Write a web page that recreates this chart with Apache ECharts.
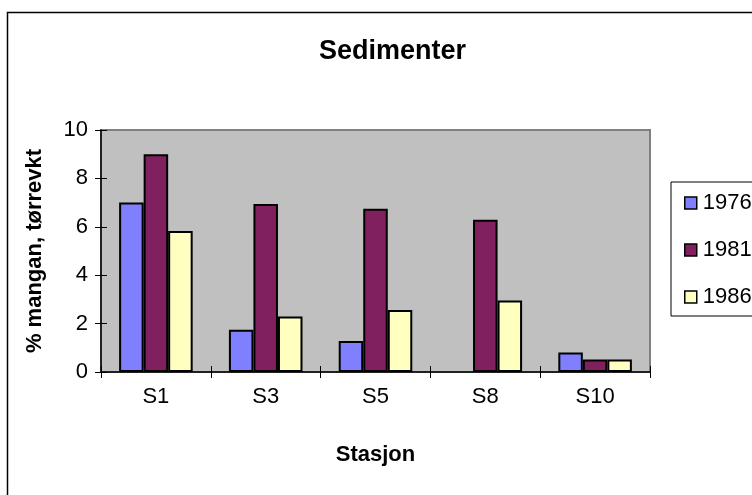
<!DOCTYPE html>
<html><head><meta charset="utf-8">
<script src="https://cdn.jsdelivr.net/npm/echarts@6/dist/echarts.min.js"></script>
<style>html,body{margin:0;padding:0;background:#fff}#c{width:752px;height:495px}</style>
</head><body><div id="c"></div>
<script>
const categories = ['S1', 'S3', 'S5', 'S8', 'S10'];
const seriesNames = ['1976', '1981', '1986'];
const v1976 = [7.0, 1.75, 1.28, null, 0.81];
const v1981 = [9.0, 6.94, 6.75, 6.29, 0.52];
const v1986 = [5.83, 2.29, 2.56, 2.95, 0.52];
const colors = ['#8080FF', '#80205F', '#FFFFC0'];
const yTicks = { min: 0, max: 10, interval: 2 };

const chart = echarts.init(document.getElementById('c'), null, { renderer: 'canvas' });
const FONT = 'Liberation Sans, Arial, sans-serif';
const G = { left: 101, right: 102, top: 130, bottom: 123 };
const data = [v1976, v1981, v1986];
chart.setOption({
  animation: false,
  backgroundColor: '#fff',
  title: {
    text: 'Sedimenter', left: 314, top: 33,
    textStyle: { fontFamily: FONT, fontWeight: 'bold', fontSize: 27, color: '#000' }
  },
  graphic: [
    { type: 'rect', shape: { x: 7.5, y: 12.5, width: 800, height: 600 }, style: { fill: 'none', stroke: '#000', lineWidth: 1.5 }, z: 100 },
    { type: 'rect', shape: { x: 671, y: 182, width: 100, height: 134 }, style: { fill: '#fff', stroke: '#000', lineWidth: 1 }, z: -1 },
    { type: 'rect', shape: { x: 101, y: 130, width: 549, height: 242 }, style: { fill: '#C0C0C0', stroke: '#808080', lineWidth: 2 }, z: -10 }
  ],
  legend: {
    orient: 'vertical', left: 679, top: 187, icon: 'rect',
    itemWidth: 12, itemHeight: 12, itemGap: 25,
    data: seriesNames,
    textStyle: { fontFamily: FONT, fontSize: 22, color: '#000', padding: [0, 0, 0, 1] },
    itemStyle: { borderColor: '#000', borderWidth: 1.5 }
  },
  grid: G,
  xAxis: [{
    type: 'category', data: categories,
    axisLine: { lineStyle: { color: '#000', width: 1.5 } },
    axisTick: { show: true, length: 6, lineStyle: { color: '#000' } },
    axisLabel: { fontFamily: FONT, fontSize: 22, color: '#000', margin: 14 },
    name: 'Stasjon', nameLocation: 'middle', nameGap: 72,
    nameTextStyle: { fontFamily: FONT, fontWeight: 'bold', fontSize: 22, color: '#000' }
  }, {
    type: 'category', data: categories, position: 'bottom',
    axisLine: { show: false },
    axisTick: { show: true, inside: true, length: 6, lineStyle: { color: '#000' } },
    axisLabel: { show: false }
  }],
  yAxis: [{
    type: 'value', min: yTicks.min, max: yTicks.max, interval: yTicks.interval,
    axisLine: { show: true, lineStyle: { color: '#000', width: 1.5 } },
    axisTick: { show: true, length: 6, lineStyle: { color: '#000' } },
    splitLine: { show: false },
    axisLabel: { fontFamily: FONT, fontSize: 22, color: '#000', margin: 13 },
    name: '% mangan, tørrevkt', nameLocation: 'middle', nameGap: 55,
    nameTextStyle: { fontFamily: FONT, fontWeight: 'bold', fontSize: 22, color: '#000' }
  }, {
    type: 'value', min: yTicks.min, max: yTicks.max, interval: yTicks.interval, position: 'left',
    axisLine: { show: false },
    axisTick: { show: true, inside: true, length: 6, lineStyle: { color: '#000' } },
    splitLine: { show: false },
    axisLabel: { show: false }
  }],
  series: seriesNames.map((n, i) => ({
    name: n, type: 'bar', data: data[i],
    barGap: '0%', barCategoryGap: '33%',
    itemStyle: { color: colors[i], borderColor: '#000', borderWidth: 2 }
  }))
});
</script></body></html>
